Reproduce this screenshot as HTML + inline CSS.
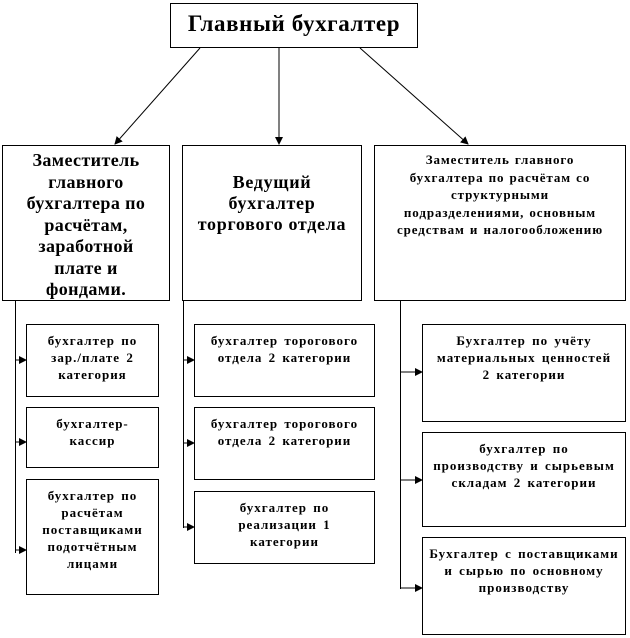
<!DOCTYPE html>
<html><head><meta charset="utf-8"><style>
body{margin:0;width:630px;height:638px;background:#fff;position:relative;overflow:hidden;font-family:"Liberation Serif",serif;font-weight:bold;color:#000}
.b{position:absolute;border:1px solid #000;box-sizing:border-box;text-align:center;background:#fff;white-space:nowrap}
svg{position:absolute;left:0;top:0}
.s{font-size:13px;line-height:17px;padding-top:7px;letter-spacing:1px;word-spacing:2px}
</style></head><body>
<svg width="630" height="638">
<defs><marker id="a" markerWidth="8" markerHeight="8" refX="7" refY="4" orient="auto" markerUnits="userSpaceOnUse"><path d="M0,0 L8,4 L0,8z" fill="#000"/></marker></defs>
<g stroke="#000" stroke-width="1" fill="none">
<line x1="200" y1="48" x2="115" y2="144" marker-end="url(#a)"/>
<line x1="279" y1="48" x2="279" y2="144" marker-end="url(#a)"/>
<line x1="360" y1="48" x2="468" y2="144" marker-end="url(#a)"/>
<line x1="15.5" y1="300" x2="15.5" y2="553"/>
<line x1="15" y1="360" x2="26" y2="360" marker-end="url(#a)"/>
<line x1="15" y1="442" x2="26" y2="442" marker-end="url(#a)"/>
<line x1="15" y1="550" x2="26" y2="550" marker-end="url(#a)"/>
<line x1="183.5" y1="300" x2="183.5" y2="528"/>
<line x1="183" y1="360" x2="194" y2="360" marker-end="url(#a)"/>
<line x1="183" y1="443" x2="194" y2="443" marker-end="url(#a)"/>
<line x1="183" y1="527" x2="194" y2="527" marker-end="url(#a)"/>
<line x1="400.5" y1="300" x2="400.5" y2="589"/>
<line x1="400" y1="372" x2="422" y2="372" marker-end="url(#a)"/>
<line x1="400" y1="480" x2="422" y2="480" marker-end="url(#a)"/>
<line x1="400" y1="588" x2="422" y2="588" marker-end="url(#a)"/>
</g></svg>
<div class="b" style="left:170px;top:3px;width:248px;height:45px;font-size:23px;line-height:40px;letter-spacing:0.6px">Главный бухгалтер</div>
<div class="b" style="left:2px;top:145px;width:168px;height:156px;font-size:18px;line-height:21.5px;padding-top:4px;letter-spacing:0.4px">Заместитель<br>главного<br>бухгалтера по<br>расчётам,<br>заработной<br>плате и<br>фондами.</div>
<div class="b" style="left:182px;top:145px;width:180px;height:156px;font-size:18px;line-height:21px;padding-top:26px;letter-spacing:0.7px">Ведущий<br>бухгалтер<br>торгового отдела</div>
<div class="b" style="left:374px;top:145px;width:252px;height:156px;font-size:13px;line-height:17.5px;padding-top:5px;letter-spacing:0.9px;word-spacing:1px">Заместитель главного<br>бухгалтера по расчётам со<br>структурными<br>подразделениями, основным<br>средствам и налогообложению</div>
<div class="b s" style="left:26px;top:324px;width:133px;height:73px">бухгалтер по<br>зар./плате 2<br>категория</div>
<div class="b s" style="left:26px;top:407px;width:133px;height:61px">бухгалтер-<br>кассир</div>
<div class="b s" style="left:26px;top:479px;width:133px;height:116px">бухгалтер по<br>расчётам<br>поставщиками<br>подотчётным<br>лицами</div>
<div class="b s" style="left:194px;top:324px;width:181px;height:73px">бухгалтер торогового<br>отдела 2 категории</div>
<div class="b s" style="left:194px;top:407px;width:181px;height:73px">бухгалтер торогового<br>отдела 2 категории</div>
<div class="b s" style="left:194px;top:491px;width:181px;height:73px">бухгалтер по<br>реализации 1<br>категории</div>
<div class="b s" style="left:422px;top:324px;width:204px;height:98px">Бухгалтер по учёту<br>материальных ценностей<br>2 категории</div>
<div class="b s" style="left:422px;top:432px;width:204px;height:95px">бухгалтер по<br>производству и сырьевым<br>складам 2 категории</div>
<div class="b s" style="left:422px;top:537px;width:204px;height:98px">Бухгалтер с поставщиками<br>и сырью по основному<br>производству</div>
</body></html>
